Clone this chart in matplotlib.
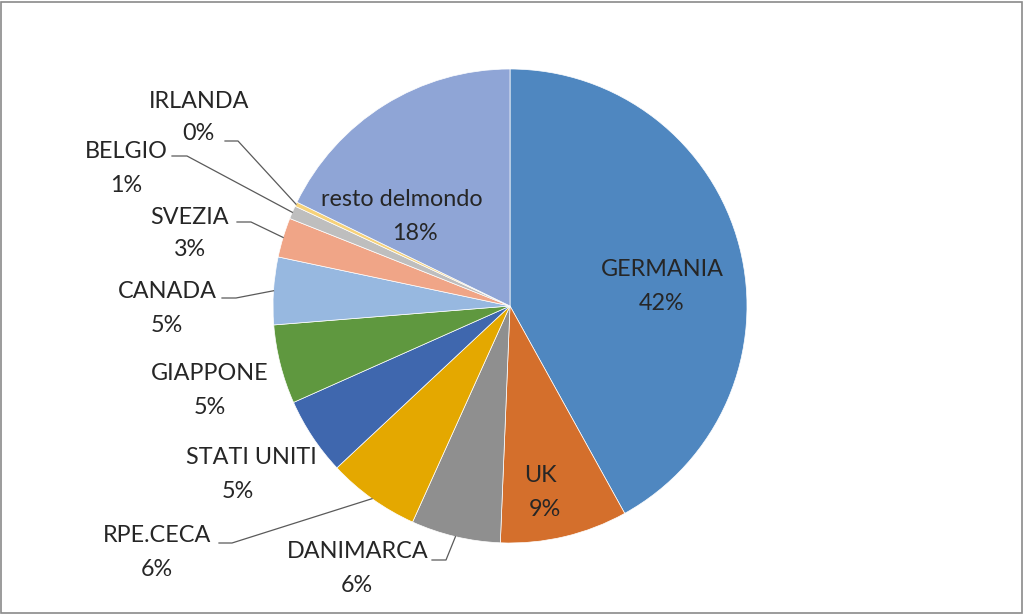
import matplotlib.pyplot as plt
import numpy as np
from matplotlib.patches import Rectangle

plt.rcParams['font.family'] = ['Lato', 'DejaVu Sans']

# data
paesi = ['GERMANIA', 'UK', 'DANIMARCA', 'RPE.CECA', 'STATI UNITI', 'GIAPPONE',
         'CANADA', 'SVEZIA', 'BELGIO', 'IRLANDA', 'resto delmondo']
quote = [42.0, 8.7, 6.1, 6.3, 5.3, 5.4, 4.6, 2.7, 0.9, 0.3, 17.8]
colori = ['#4f87c0', '#d46f2c', '#8f8f8f', '#e4a800', '#3f67ae', '#5f983f',
          '#97b8e0', '#f0a587', '#bebebe', '#f6d27a', '#8fa5d6']

# label layout (pixel coords, y down): name centre, pct centre, elbow of leader (None = no line)
lay = {
    'GERMANIA':       ((662, 270), (662, 304), None),
    'UK':             ((540, 476), (545, 509), None),
    'DANIMARCA':      ((358, 551), (357, 585), (432, 560, 446)),
    'RPE.CECA':       ((157, 536), (157, 570), (219, 543, 232)),
    'STATI UNITI':    ((251, 458), (238, 491), None),
    'GIAPPONE':       ((210, 373), (210, 407), None),
    'CANADA':         ((167, 291), (167, 325), (222, 298, 236)),
    'SVEZIA':         ((190, 217), (190, 250), (237, 222, 251)),
    'BELGIO':         ((126, 152), (126, 186), (172, 156, 187)),
    'IRLANDA':        ((199, 102), (198, 134), (225, 141, 238)),
    'resto delmondo': ((402, 199), (415, 233), None),
}

W, H = 1024, 614
fig = plt.figure(figsize=(W / 100, H / 100), dpi=100)
ax = fig.add_axes([0, 0, 1, 1])

cx, cy, r = 510, H - 306, 237
wedges, _ = ax.pie(quote, colors=colori, startangle=90, counterclock=False,
                   center=(cx, cy), radius=r, frame=True,
                   wedgeprops=dict(edgecolor='white', linewidth=0.5))
ax.set_xlim(0, W)
ax.set_ylim(0, H)
ax.set_aspect('equal')
ax.axis('off')

tot = sum(quote)
fs = 16.8
for w, nome, q in zip(wedges, paesi, quote):
    (nx, ny), (px, py), lead = lay[nome]
    pct = '%d%%' % round(q / tot * 100)
    ax.text(nx, H - ny, nome, ha='center', va='center', fontsize=fs, color='#262626')
    ax.text(px, H - py, pct, ha='center', va='center', fontsize=fs, color='#262626')
    if lead is not None:
        ang = np.deg2rad((w.theta1 + w.theta2) / 2)
        ex, ey = cx + r * np.cos(ang), cy + r * np.sin(ang)
        x0, yl, x1 = lead
        ax.plot([x0, x1, ex], [H - yl, H - yl, ey], color='#5a5a5a', lw=0.9)

fig.add_artist(Rectangle((0.001, 0.002), 0.997, 0.995, transform=fig.transFigure,
                         fill=False, edgecolor='#8a8a8a', lw=1.2))

fig.savefig('out.png', dpi=100)
